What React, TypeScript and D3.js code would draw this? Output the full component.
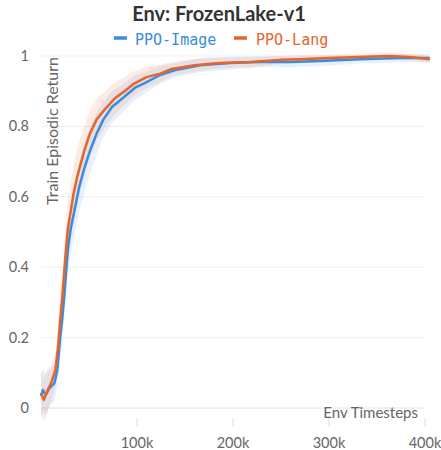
import React from "react";
import * as d3 from "d3";

// timesteps (k) and mean episodic return per series
const imageSteps = [0, 2, 5, 9, 14, 17, 20, 22, 24, 26, 28, 31, 34, 37, 40, 45, 51, 58, 65, 74, 85, 98, 108, 124, 140, 166, 197, 228, 259, 291, 332, 374, 405];
const imageReturn = [0.034, 0.051, 0.037, 0.057, 0.071, 0.108, 0.2, 0.25, 0.31, 0.38, 0.45, 0.51, 0.55, 0.59, 0.63, 0.68, 0.73, 0.78, 0.82, 0.855, 0.88, 0.91, 0.923, 0.946, 0.96, 0.974, 0.98, 0.983, 0.983, 0.986, 0.991, 0.994, 0.994];
const imageSpread = [0.06, 0.06, 0.06, 0.05, 0.05, 0.05, 0.06, 0.06, 0.06, 0.06, 0.07, 0.07, 0.07, 0.07, 0.07, 0.07, 0.065, 0.06, 0.05, 0.045, 0.04, 0.035, 0.03, 0.025, 0.02, 0.02, 0.018, 0.015, 0.015, 0.015, 0.012, 0.012, 0.012];

const langSteps = [0, 3, 7, 11, 15, 18, 20, 22, 24, 26, 28, 31, 34, 38, 42, 45, 51, 58, 67, 77, 87, 96, 110, 124, 136, 160, 186, 218, 249, 270, 301, 332, 363, 384, 405];
const langReturn = [0.043, 0.023, 0.051, 0.074, 0.108, 0.18, 0.25, 0.31, 0.38, 0.45, 0.51, 0.56, 0.61, 0.66, 0.7, 0.73, 0.78, 0.82, 0.85, 0.88, 0.9, 0.92, 0.94, 0.95, 0.963, 0.974, 0.98, 0.983, 0.989, 0.991, 0.994, 0.997, 1.0, 0.997, 0.991];
const langSpread = [0.06, 0.06, 0.06, 0.05, 0.05, 0.06, 0.07, 0.07, 0.08, 0.08, 0.08, 0.08, 0.08, 0.08, 0.075, 0.07, 0.065, 0.06, 0.05, 0.045, 0.04, 0.035, 0.03, 0.025, 0.02, 0.018, 0.015, 0.015, 0.012, 0.012, 0.01, 0.01, 0.01, 0.01, 0.01];

const yTicks = [0, 0.2, 0.4, 0.6, 0.8, 1];
const xTicks = [100, 200, 300, 400];

const BLUE = "#3a8ddd";
const ORANGE = "#e5652c";

export default function App() {
  const W = 441, H = 450;
  const x = d3.scaleLinear().domain([0, 400]).range([41, 425]);
  const y = d3.scaleLinear().domain([0, 1]).range([408, 56]);

  const mk = (steps: number[], vals: number[], spread: number[]) => {
    const pts = steps.map((s, i) => ({ s, v: vals[i], e: spread[i] }));
    const line = d3.line<any>().x(d => x(d.s)).y(d => y(d.v))(pts) as string;
    const area = d3.area<any>().x(d => x(d.s)).y0(d => y(d.v - d.e)).y1(d => y(Math.min(d.v + d.e, 1.01)))(pts) as string;
    return { line, area };
  };
  const img = mk(imageSteps, imageReturn, imageSpread);
  const lang = mk(langSteps, langReturn, langSpread);

  const grey = "#666";
  const sans = "Lato, 'Open Sans', sans-serif";
  const mono = "'DejaVu Sans Mono', monospace";

  return (
    <svg width={W} height={H} style={{ position: "absolute", left: 0, top: 0 }}>
      <rect width={W} height={H} fill="#fff" />
      <text x={219} y={21} textAnchor="middle" fontFamily={sans} fontWeight={700} fontSize={20} fill="#333">
        Env: FrozenLake-v1
      </text>
      {/* legend */}
      <line x1={114} x2={127} y1={38} y2={38} stroke={BLUE} strokeWidth={3.5} />
      <text x={135} y={45} fontFamily={mono} fontSize={15} fill={BLUE}>PPO-Image</text>
      <line x1={234} x2={247} y1={38} y2={38} stroke={ORANGE} strokeWidth={3.5} />
      <text x={256} y={45} fontFamily={mono} fontSize={15} fill={ORANGE}>PPO-Lang</text>

      {yTicks.map(t => (
        <g key={t}>
          <line x1={42} x2={425} y1={y(t)} y2={y(t)} stroke={t === 0 ? "#e2e2e2" : "#efefef"} strokeWidth={1} />
          <text x={29} y={y(t) + 5} textAnchor="end" fontFamily={sans} fontSize={14.5} fill={grey}>{t}</text>
        </g>
      ))}
      {xTicks.map(t => (
        <g key={t}>
          <line x1={x(t)} x2={x(t)} y1={418} y2={427} stroke="#ddd" />
          <text x={x(t)} y={448} textAnchor="middle" fontFamily={sans} fontSize={14.5} fill={grey}>{t}k</text>
        </g>
      ))}
      <text x={418} y={418} textAnchor="end" fontFamily={sans} fontSize={15} fill={grey}>Env Timesteps</text>
      <text transform="translate(58,131) rotate(-90)" textAnchor="middle" fontFamily={sans} fontSize={16} fill={grey}>
        Train Episodic Return
      </text>

      <path d={img.area} fill={BLUE} fillOpacity={0.12} />
      <path d={lang.area} fill={ORANGE} fillOpacity={0.12} />
      <path d={img.line} fill="none" stroke={BLUE} strokeWidth={2.5} strokeLinejoin="round" />
      <path d={lang.line} fill="none" stroke={ORANGE} strokeWidth={2.5} strokeLinejoin="round" />
    </svg>
  );
}
